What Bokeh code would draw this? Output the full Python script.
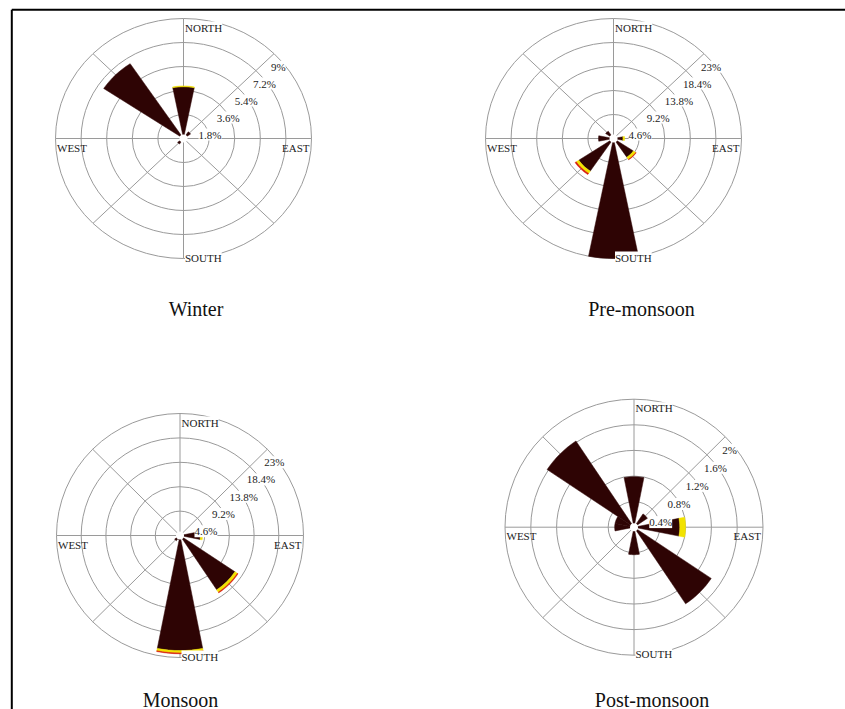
import numpy as np
from bokeh.plotting import figure
from bokeh.models import Range1d
from bokeh.core.properties import value
from bokeh.embed import file_html
from bokeh.resources import INLINE

# ---------------- data ----------------
directions = ["N", "NNE", "NE", "ENE", "E", "ESE", "SE", "SSE",
              "S", "SSW", "SW", "WSW", "W", "WNW", "NW", "NNW"]
seasons = ["Winter", "Pre-monsoon", "Monsoon", "Post-monsoon"]
ring_max = [9.0, 23.0, 23.0, 2.0]
ring_labels = [
    ["1.8%", "3.6%", "5.4%", "7.2%", "9%"],
    ["4.6%", "9.2%", "13.8%", "18.4%", "23%"],
    ["4.6%", "9.2%", "13.8%", "18.4%", "23%"],
    ["0.4%", "0.8%", "1.2%", "1.6%", "2%"],
]
compass_labels = ["NORTH", "EAST", "SOUTH", "WEST"]

# frequency (%) per direction, stacked classes: dark (inner), yellow, red (outer)
winter_dark = [3.88, 0, 0.6, 0, 0, 0, 0, 0, 0, 0, 0.5, 0, 0, 0, 6.75, 0]
winter_yellow = [0.06, 0, 0, 0, 0, 0, 0, 0, 0, 0, 0, 0, 0, 0, 0, 0]
winter_red = [0, 0, 0, 0, 0, 0, 0, 0, 0, 0, 0, 0, 0, 0, 0, 0]

pre_dark = [0, 0, 0, 0, 1.7, 0, 4.3, 0, 23.0, 0, 7.5, 0, 2.7, 0, 1.7, 0]
pre_yellow = [0, 0, 0, 0, 0.3, 0, 0.5, 0, 0, 0, 0.55, 0, 0, 0, 0, 0]
pre_red = [0, 0, 0, 0, 0, 0, 0.1, 0, 0, 0, 0.25, 0, 0, 0, 0, 0]

mon_dark = [0, 0, 0, 0, 3.8, 0, 12.3, 0, 21.7, 0.8, 1.2, 0, 0, 0, 0, 0]
mon_yellow = [0, 0, 0, 0, 0.4, 0, 0.55, 0, 0.45, 0, 0, 0, 0, 0, 0, 0]
mon_red = [0, 0, 0, 0, 0, 0, 0.15, 0, 0.15, 0, 0, 0, 0, 0, 0, 0]

post_dark = [0.79, 0, 0.25, 0, 0.71, 0, 1.44, 0, 0.43, 0, 0, 0, 0.3, 0.3, 1.62, 0]
post_yellow = [0, 0, 0, 0, 0.09, 0, 0, 0, 0, 0, 0, 0, 0, 0, 0, 0]
post_red = [0, 0, 0, 0, 0, 0, 0, 0, 0, 0, 0, 0, 0, 0, 0, 0]

season_data = [
    (winter_dark, winter_yellow, winter_red),
    (pre_dark, pre_yellow, pre_red),
    (mon_dark, mon_yellow, mon_red),
    (post_dark, post_yellow, post_red),
]

# ---------------- layout / style ----------------
class_colors = ["#2e0404", "#f2e200", "#d61a0a"]
ring_color = "#9a9a9a"
FONT = value("Liberation Serif")

# centre x, centre y, x radius, y radius (page pixels)
rose_geom = [
    (183.0, 138.0, 128.0, 120.0),
    (613.0, 138.0, 128.0, 120.0),
    (179.5, 535.0, 123.5, 122.0),
    (633.5, 526.7, 129.0, 128.0),
]
# title centres (vertical middle)
title_pos = [(195.5, 308.0), (641.0, 308.0), (180.0, 699.0), (651.5, 699.0)]

W, H = 845, 709
p = figure(width=W, height=H, output_backend="svg", toolbar_location=None,
           x_range=Range1d(0, W), y_range=Range1d(H, 0),
           x_axis_type=None, y_axis_type=None, min_border=0,
           outline_line_color=None, background_fill_color="white",
           border_fill_color="white")
p.xgrid.visible = False
p.ygrid.visible = False

# page frame (top and left rules)
p.line(x=[11.3, 845], y=[9.3, 9.3], line_color="black", line_width=2)
p.line(x=[11.3, 11.3], y=[9.3, 709], line_color="black", line_width=2)

HALF = 11.25
for k, season in enumerate(seasons):
    cx, cy, rx, ry = rose_geom[k]
    rmax = ring_max[k]

    # rings
    fr = np.arange(1, 6) / 5.0
    p.ellipse(x=[cx] * 5, y=[cy] * 5, width=list(2 * rx * fr), height=list(2 * ry * fr),
              fill_color=None, line_color=ring_color, line_width=1)
    # spokes (N-S, E-W, diagonals)
    sx, sy = [], []
    for ang in [0, 45, 90, 135]:
        a = np.radians(ang)
        sx.append([cx - rx * np.sin(a), cx + rx * np.sin(a)])
        sy.append([cy + ry * np.cos(a), cy - ry * np.cos(a)])
    p.multi_line(xs=sx, ys=sy, line_color=ring_color, line_width=1)

    # petals
    xs, ys, cols = [], [], []
    series = season_data[k]
    for i, d in enumerate(directions):
        theta = i * 22.5
        r0 = 0.0
        for c in range(3):
            v = series[c][i]
            if v <= 0:
                continue
            r1 = r0 + v
            a = np.radians(np.linspace(theta - HALF, theta + HALF, 9))
            n0, n1 = r0 / rmax, r1 / rmax
            px = np.concatenate([cx + rx * n1 * np.sin(a), (cx + rx * n0 * np.sin(a))[::-1]])
            py = np.concatenate([cy - ry * n1 * np.cos(a), (cy - ry * n0 * np.cos(a))[::-1]])
            xs.append(list(px))
            ys.append(list(py))
            cols.append(class_colors[c])
            r0 = r1
    if xs:
        p.patches(xs=xs, ys=ys, fill_color=cols, line_color=cols, line_width=0.5)

    # calm circle
    p.ellipse(x=[cx], y=[cy], width=[8], height=[8], fill_color="white", line_color=None)

    # ring labels
    lx = [cx + rx * 0.7071 * f - 3 for f in fr]
    ly = [cy - ry * 0.7071 * f + 13 for f in fr]
    p.text(x=lx, y=ly, text=ring_labels[k], text_font=FONT, text_font_size="11px",
           text_color="#222222", text_align="left", text_baseline="middle",
           background_fill_color="white")

    # compass labels
    p.text(x=[cx + 1.5], y=[cy - ry + 9], text=[compass_labels[0]], text_font=FONT,
           text_font_size="11px", text_color="#222222", text_align="left",
           text_baseline="middle", background_fill_color="white")
    p.text(x=[cx + rx - 2], y=[cy + 9], text=[compass_labels[1]], text_font=FONT,
           text_font_size="11px", text_color="#222222", text_align="right",
           text_baseline="middle")
    p.text(x=[cx + 1.5], y=[cy + ry - 1], text=[compass_labels[2]], text_font=FONT,
           text_font_size="11px", text_color="#222222", text_align="left",
           text_baseline="middle", background_fill_color="white")
    p.text(x=[cx - rx + 1.5], y=[cy + 9], text=[compass_labels[3]], text_font=FONT,
           text_font_size="11px", text_color="#222222", text_align="left",
           text_baseline="middle")

    # season title
    tx, ty = title_pos[k]
    p.text(x=[tx], y=[ty], text=[season], text_font=FONT, text_font_size="20px",
           text_color="#111111", text_align="center", text_baseline="middle")

open("out.html", "w").write(file_html(p, INLINE))
